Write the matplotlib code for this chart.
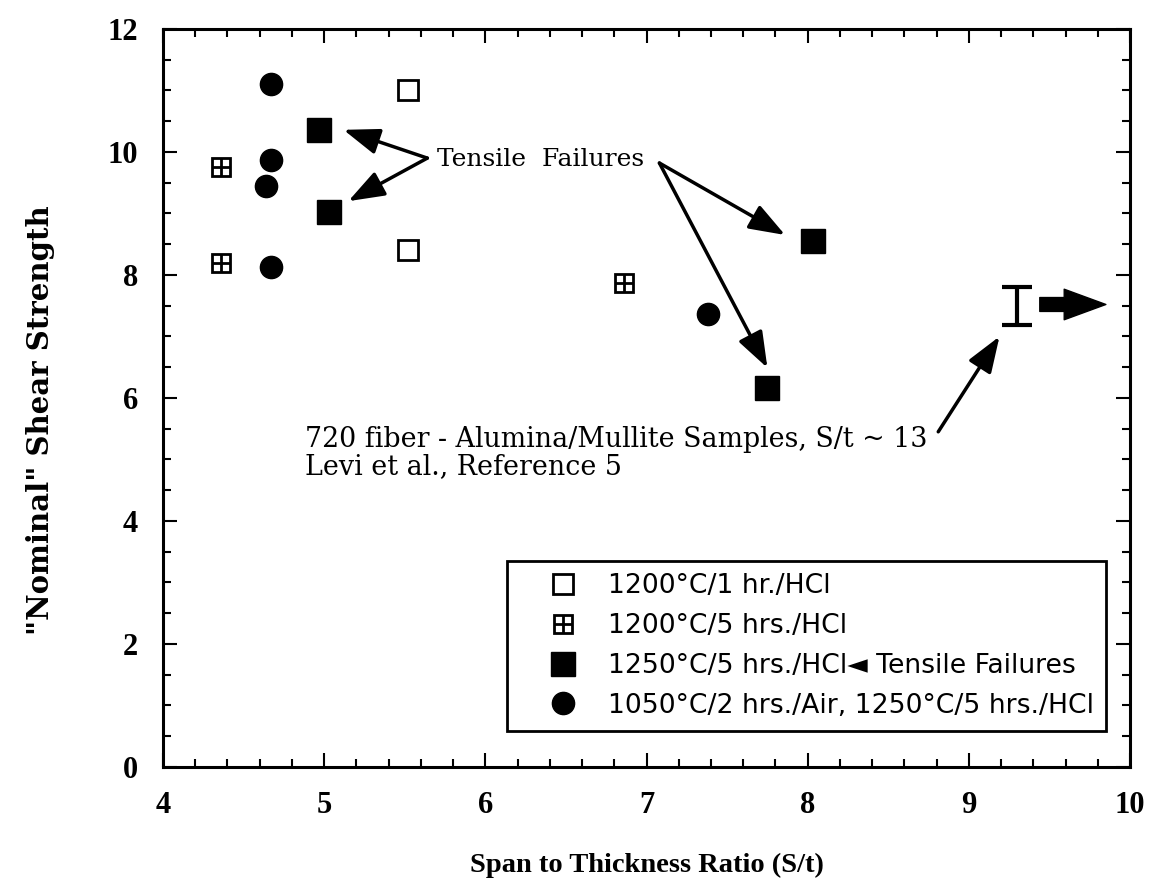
import matplotlib
matplotlib.use("Agg")
import matplotlib.pyplot as plt
from matplotlib.ticker import MultipleLocator

# data
open_x = [5.52, 5.52]
open_y = [11.01, 8.41]
cross_x = [4.36, 4.36, 6.86]
cross_y = [9.76, 8.20, 7.87]
filled_x = [4.97, 5.03, 8.03, 7.75]
filled_y = [10.35, 9.02, 8.55, 6.16]
circle_x = [4.67, 4.67, 4.64, 4.67, 7.38]
circle_y = [11.10, 9.87, 9.44, 8.13, 7.36]

# Levi et al. reference value (S/t ~ 13)
levi_x = [9.30]
levi_y = [7.50]
levi_err = [0.31]

labels = ["1200°C/1 hr./HCl", "1200°C/5 hrs./HCl",
          "1250°C/5 hrs./HCl◄ Tensile Failures",
          "1050°C/2 hrs./Air, 1250°C/5 hrs./HCl"]

serif = ["Liberation Serif", "DejaVu Serif"]
wide_serif = ["DejaVu Serif"]
sans = ["DejaVu Sans"]

fig = plt.figure(figsize=(11.51, 8.91), dpi=100)
ax = fig.add_axes([0.1416, 0.1392, 0.8402, 0.8283])

h_open, = ax.plot(open_x, open_y, 's', ms=14, mfc='white', mec='black', mew=2, ls='none')
h_cross1, = ax.plot(cross_x, cross_y, 's', ms=13, mfc='white', mec='black', mew=2, ls='none')
h_cross2, = ax.plot(cross_x, cross_y, '+', ms=13, mec='black', mew=2, ls='none')
h_fill, = ax.plot(filled_x, filled_y, 's', ms=17, color='black', ls='none')
h_circ, = ax.plot(circle_x, circle_y, 'o', ms=16, color='black', ls='none')

ax.errorbar(levi_x, levi_y, yerr=levi_err, fmt='none', ecolor='black',
            elinewidth=3, capsize=11, capthick=3)

arrow_kw = dict(arrowstyle='-|>,head_length=1.1,head_width=0.4', color='black',
                lw=2.5, mutation_scale=20, shrinkA=0, shrinkB=0)

# "Tensile Failures" callout
ax.text(5.70, 9.88, "Tensile  Failures", fontsize=18, family=wide_serif, va='center', ha='left')
for tip in [(5.12, 10.36), (5.15, 9.20)]:
    ax.annotate('', xy=tip, xytext=(5.64, 9.90), arrowprops=arrow_kw)
for tip in [(7.86, 8.65), (7.75, 6.49)]:
    ax.annotate('', xy=tip, xytext=(7.08, 9.82), arrowprops=arrow_kw)

# reference note
ax.text(4.88, 5.33, "720 fiber - Alumina/Mullite Samples, S/t ~ 13",
        fontsize=19.4, family=wide_serif, va='center', ha='left')
ax.text(4.88, 4.88, "Levi et al., Reference 5",
        fontsize=19.4, family=wide_serif, va='center', ha='left')
ax.annotate('', xy=(9.19, 7.00), xytext=(8.81, 5.45), arrowprops=arrow_kw)
ax.annotate('', xy=(9.85, 7.52), xytext=(9.44, 7.52),
            arrowprops=dict(arrowstyle='simple,head_length=1.5,head_width=1.1,tail_width=0.5',
                            fc='black', ec='black', mutation_scale=20, shrinkA=0, shrinkB=0))

ax.set_xlim(4, 10)
ax.set_ylim(0, 12)
ax.xaxis.set_major_locator(MultipleLocator(1))
ax.xaxis.set_minor_locator(MultipleLocator(0.2))
ax.yaxis.set_major_locator(MultipleLocator(2))
ax.yaxis.set_minor_locator(MultipleLocator(0.5))
ax.tick_params(which='both', direction='in', top=True, right=True, width=1.5)
ax.tick_params(which='major', length=10)
ax.tick_params(which='minor', length=5.5)
ax.tick_params(axis='x', pad=17)
ax.tick_params(axis='y', pad=18)
for lab in ax.get_xticklabels() + ax.get_yticklabels():
    lab.set_family(serif)
    lab.set_fontweight('bold')
    lab.set_fontsize(22)
for sp in ax.spines.values():
    sp.set_linewidth(2.2)

ax.set_xlabel("Span to Thickness Ratio (S/t)", family=serif, fontweight='bold',
              fontsize=20.5, labelpad=24)
ax.set_ylabel('"Nominal" Shear Strength', family=wide_serif, fontweight='bold',
              fontsize=21)
ax.yaxis.set_label_coords(-0.112, 0.47)

leg = ax.legend([h_open, (h_cross1, h_cross2), h_fill, h_circ], labels,
                loc='lower right', bbox_to_anchor=(0.975, 0.049),
                prop={'family': sans, 'size': 19.2}, fancybox=False,
                edgecolor='black', framealpha=1, handlelength=3.3,
                handletextpad=0.05, labelspacing=0.52, borderpad=0.45,
                borderaxespad=0)
leg.get_frame().set_linewidth(2)

fig.savefig("out.png", dpi=100)
